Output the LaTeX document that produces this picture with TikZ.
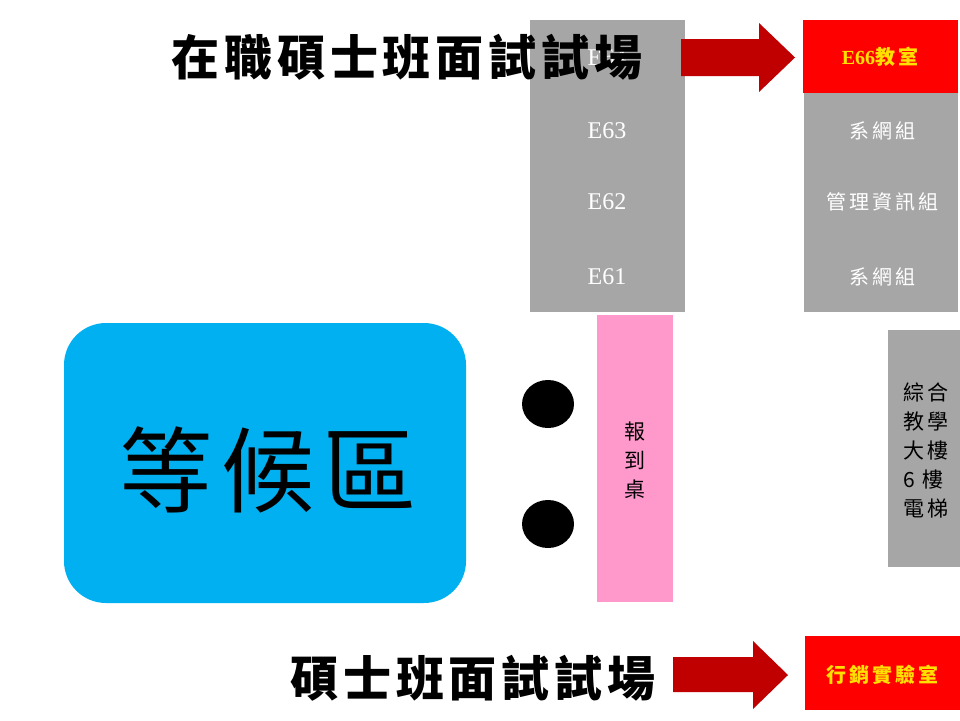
\documentclass[tikz,border=0pt]{standalone}
\usepackage{fontspec}
\setmainfont{Liberation Serif}
\newfontfamily\cjk[LetterSpace=10]{Noto Sans CJK TC}
\newfontfamily\cjksmall[LetterSpace=15]{Noto Sans CJK TC}
\usetikzlibrary{calc}

\definecolor{roomgray}{HTML}{A6A6A6}
\definecolor{deskpink}{HTML}{FF99CC}
\definecolor{waitblue}{HTML}{00B0F0}
\definecolor{arrowred}{HTML}{C00000}
\definecolor{roomred}{HTML}{FF0000}
\definecolor{roomyellow}{HTML}{FFE000}

\tikzset{
  roomlabel/.style={text=white,font=\fontsize{24}{28}\selectfont},
  grouplabel/.style={text=white,font=\cjksmall\fontsize{20}{24}\selectfont},
  bigtitle/.style={text=black,font=\cjk\bfseries\fontsize{48}{56}\selectfont},
  vertlabel/.style={text=black,align=center,font=\cjksmall\fontsize{21}{29}\selectfont}
}

\begin{document}
\begin{tikzpicture}[x=1pt,y=-1pt]
\useasboundingbox (0,0) rectangle (960,720);

% Room column E61 to E64
\fill[roomgray] (530,20) rectangle (685,312);
\node[roomlabel] (E64) at (607,58) {E64};
\node[roomlabel] (E63) at (607,131) {E63};
\node[roomlabel] (E62) at (607,202) {E62};
\node[roomlabel] (E61) at (607,277) {E61};

% Offices on the right
\fill[roomred] (803,20) rectangle (958,93);
\node[text=roomyellow,font=\fontsize{20}{24}\selectfont\bfseries] (E66) at (880,57) {E66{\cjksmall 教室}};
\fill[roomgray] (804,93) rectangle (958,312);
\node[grouplabel] (net-a) at (882,131) {系網組};
\node[grouplabel] (mis) at (882,202) {管理資訊組};
\node[grouplabel] (net-b) at (882,277) {系網組};

% Top title, drawn over the room column
\node[bigtitle] (title-top) at (407,57) {在職碩士班面試試場};

% Top arrow
\coordinate (A1) at (681,39);
\coordinate (A2) at (759,23);
\coordinate (A3) at (795,57.5);
\fill[arrowred] (A1) -- (759,39) -- (A2) -- (A3) -- (759,92) -- (759,76) -- (681,76) -- cycle;

% Waiting area
\fill[waitblue,rounded corners=42pt] (64,323) rectangle (466,603);
\node[font=\cjk\fontsize{93}{100}\selectfont] (wait) at (268,470) {等候區};

% Colon dots
\fill (548,404) ellipse (26 and 24);
\fill (548,524) ellipse (26 and 24);

% Check-in desk
\fill[deskpink] (597,315) rectangle (673,602);
\node[vertlabel] (desk) at (635,461) {報\\到\\桌};

% Elevator
\fill[roomgray] (888,330) rectangle (960,567);
\node[vertlabel,align=left] (lift) at (926,450) {綜合\\教學\\大樓\\6 樓\\電梯};

% Bottom title and arrow
\node[bigtitle] (title-bot) at (473,678) {碩士班面試試場};
\coordinate (B1) at (673,657);
\coordinate (B2) at (753,641);
\coordinate (B3) at (788,675);
\fill[arrowred] (B1) -- (753,657) -- (B2) -- (B3) -- (753,709) -- (753,692) -- (673,692) -- cycle;
\fill[roomred] (805,636) rectangle (960,710);
\node[text=roomyellow,font=\cjksmall\bfseries\fontsize{20}{24}\selectfont] (lab) at (882,675) {行銷實驗室};

\end{tikzpicture}
\end{document}
